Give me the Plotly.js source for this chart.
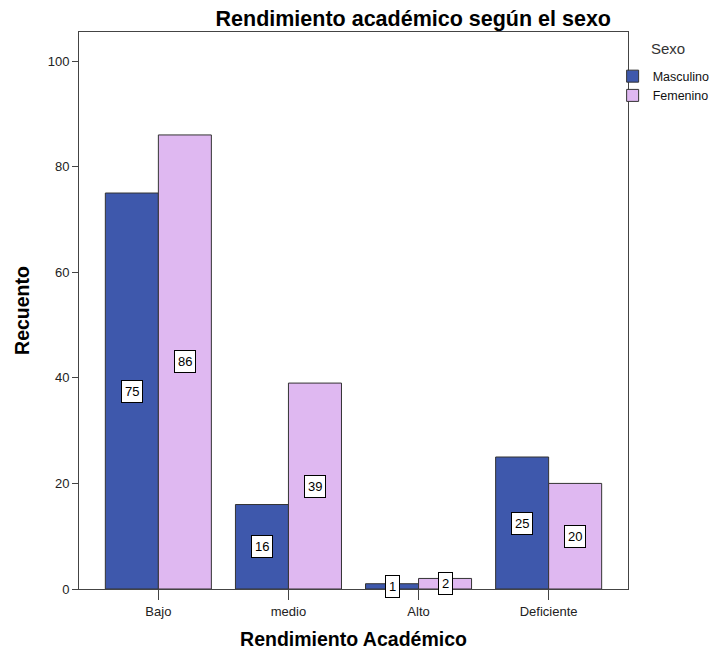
<!DOCTYPE html>
<html>
<head>
<meta charset="utf-8">
<script src="https://cdn.plot.ly/plotly-3.0.1.min.js"></script>
<style>html,body{margin:0;padding:0;background:#fff;}#chart{width:715px;height:650px;}</style>
</head>
<body>
<div id="chart"></div>
<script>
const categories = ["Bajo", "medio", "Alto", "Deficiente"];
const masculino = [75, 16, 1, 25];
const femenino = [86, 39, 2, 20];
const seriesNames = ["Masculino", "Femenino"];
const legendTitle = "Sexo";
const yTicks = [0, 20, 40, 60, 80, 100];

const FONT = "Liberation Sans, Arial, sans-serif";
const colors = ["#3E58AC", "#DFB8F1"];

const traces = [masculino, femenino].map((vals, i) => ({
  type: "bar",
  name: seriesNames[i],
  x: categories,
  y: vals,
  marker: { color: colors[i], line: { color: "#333333", width: 1 } },
  hoverinfo: "none"
}));

const annotations = [];
[masculino, femenino].forEach((vals, i) => {
  vals.forEach((v, j) => {
    annotations.push({
      x: categories[j], y: v / 2, xref: "x", yref: "y",
      text: String(v), showarrow: false,
      xshift: i === 0 ? -26.5 : 26.5,
      bgcolor: "#ffffff", bordercolor: "#000000", borderwidth: 1, borderpad: 3,
      font: { family: FONT, size: 13, color: "#000" }
    });
  });
});
annotations.push({
  xref: "paper", yref: "paper", x: 1.038, y: 0.971, xanchor: "left", yanchor: "middle",
  text: legendTitle, showarrow: false,
  font: { family: FONT, size: 15, color: "#333" }
});

const layout = {
  width: 715, height: 650,
  margin: { l: 79, r: 87, t: 32, b: 61, autoexpand: false },
  paper_bgcolor: "#fff", plot_bgcolor: "#fff",
  font: { family: FONT, color: "#222" },
  barmode: "group", bargap: 0.185, bargroupgap: 0,
  title: {
    text: "<b>Rendimiento académico según el sexo</b>",
    font: { family: FONT, size: 21.5, color: "#000" },
    xref: "container", x: 0.578, xanchor: "center",
    yref: "container", y: 0.972, yanchor: "middle"
  },
  xaxis: {
    type: "category",
    range: [-0.61, 3.61],
    showline: true, mirror: true, linecolor: "#444", linewidth: 1,
    ticks: "outside", ticklen: 10, tickcolor: "#444",
    tickfont: { family: FONT, size: 13, color: "#222" },
    showgrid: false, zeroline: false,
    title: { text: "<b>Rendimiento Académico</b>", font: { family: FONT, size: 19.5, color: "#000" }, standoff: 16 }
  },
  yaxis: {
    range: [0, 105.5],
    tickvals: yTicks,
    showline: true, mirror: true, linecolor: "#444", linewidth: 1,
    ticks: "outside", ticklen: 6, tickcolor: "#444",
    tickfont: { family: FONT, size: 13, color: "#222" },
    showgrid: false, zeroline: false,
    title: { text: "<b>Recuento</b>", font: { family: FONT, size: 19.5, color: "#000" }, standoff: 12 }
  },
  legend: {
    x: 0.972, xanchor: "left", xref: "paper",
    y: 0.947, yanchor: "top",
    font: { family: FONT, size: 12.5, color: "#111" },
    itemwidth: 30, tracegroupgap: 0,
    bgcolor: "rgba(0,0,0,0)"
  },
  annotations: annotations,
  showlegend: true
};

Plotly.newPlot("chart", traces, layout, { displayModeBar: false, staticPlot: true });
</script>
</body>
</html>
